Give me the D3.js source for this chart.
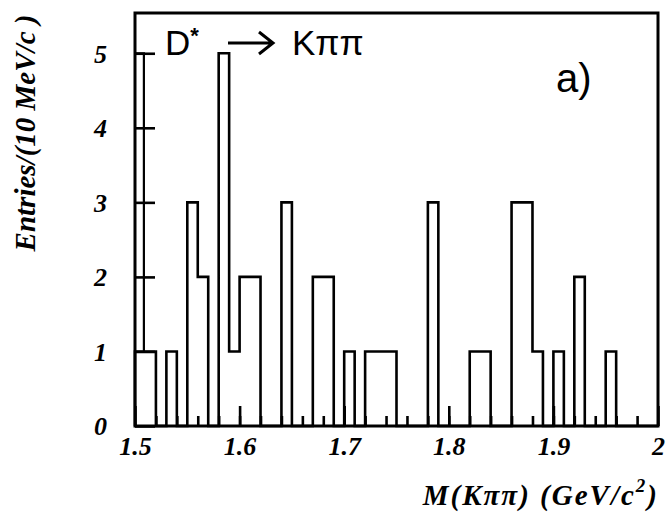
<!doctype html>
<html>
<head>
<script src="https://d3js.org/d3.v7.min.js"></script>
<style>
body { margin: 0; background: #fff; }
svg text { fill: #000; }
.axis text { font-family: "Liberation Serif", "DejaVu Serif", serif; font-style: italic; font-weight: bold; font-size: 26px; }
.axis line { stroke: #000; stroke-width: 2.6px; }
.title { font-family: "Liberation Serif", serif; font-style: italic; font-weight: bold; font-size: 29px; }
.sans { font-family: "Liberation Sans", Arial, sans-serif; }
</style>
</head>
<body>
<svg id="chart" width="672" height="517"></svg>
<script>
// bins of 10 MeV starting at 1.50 GeV
var binStart = 1.5;
var binWidth = 0.01;
var counts = [1, 1, 0, 1, 0, 3, 2, 0, 5, 1,
              2, 2, 0, 0, 3, 0, 0, 2, 2, 0,
              1, 0, 1, 1, 1, 0, 0, 0, 3, 0,
              0, 0, 1, 1, 0, 0, 3, 3, 1, 0,
              1, 0, 2, 0, 0, 1, 0, 0, 0, 0];
// odd narrow spike drawn at the very left edge
var spikeEdge = 1.5085;
var spikeTop = 5;
var xTicks = [1.5, 1.6, 1.7, 1.8, 1.9, 2.0];
var xTickLabels = ["1.5", "1.6", "1.7", "1.8", "1.9", "2"];
var xMinorTicks = d3.range(1.52, 2.0, 0.02);
var yTicks = [0, 1, 2, 3, 4, 5];

var svg = d3.select("#chart");
var x = d3.scaleLinear().domain([1.5, 2.0]).range([135, 658]);
var y = d3.scaleLinear().domain([0, 5.54]).range([426, 13]);

// histogram outline (steps only where the count changes)
var pts = [[x(binStart), y(0)]];
counts.forEach(function(c, i) {
	var x0 = x(binStart + i * binWidth), x1 = x(binStart + (i + 1) * binWidth);
	pts.push([x0, y(c)], [x1, y(c)]);
});
pts.push([x(binStart + counts.length * binWidth), y(0)]);
svg.append("path")
	.attr("d", d3.line()(pts))
	.attr("fill", "none").attr("stroke", "#000").attr("stroke-width", 2.6)
	.attr("stroke-linejoin", "miter");

svg.append("path")
	.attr("d", d3.line()([[x(1.5), y(spikeTop)], [x(spikeEdge), y(spikeTop)], [x(spikeEdge), y(1)]]))
	.attr("fill", "none").attr("stroke", "#000").attr("stroke-width", 2.2);

// axes: ticks point inside the frame
var gx = svg.append("g").attr("class", "axis")
	.attr("transform", "translate(0," + y(0) + ")")
	.call(d3.axisBottom(x).tickValues(xTicks).tickSize(-20)
		.tickFormat(function(d, i) { return xTickLabels[i]; }));
gx.selectAll("text").attr("y", 29).attr("dy", 0);
svg.append("g").attr("class", "axis")
	.attr("transform", "translate(0," + y(0) + ")")
	.call(d3.axisBottom(x).tickValues(xMinorTicks).tickSize(-10).tickFormat(""));
var gy = svg.append("g").attr("class", "axis")
	.attr("transform", "translate(" + x(1.5) + ",0)")
	.call(d3.axisLeft(y).tickValues(yTicks).tickSize(-20).tickFormat(d3.format("d")));
gy.selectAll("text").attr("x", -28).attr("dy", "0.34em");
svg.selectAll(".axis .domain").remove();

// frame
svg.append("rect")
	.attr("x", x(1.5)).attr("y", y(5.54))
	.attr("width", x(2.0) - x(1.5)).attr("height", y(0) - y(5.54))
	.attr("fill", "none").attr("stroke", "#000").attr("stroke-width", 3);

// axis titles
var xt = svg.append("text").attr("class", "title")
	.attr("x", 659).attr("y", 505).attr("text-anchor", "end")
	.attr("font-size", 31).attr("letter-spacing", 2);
xt.append("tspan").text("M(K\u03c0\u03c0) (GeV/c");
xt.append("tspan").attr("dy", -13).attr("font-size", 19).text("2");
xt.append("tspan").attr("dy", 13).text(")");

svg.append("defs").append("clipPath").attr("id", "yclip")
	.append("rect").attr("x", 13).attr("y", 0).attr("width", 60).attr("height", 300);
svg.append("g").attr("clip-path", "url(#yclip)")
	.append("text").attr("class", "title")
	.attr("transform", "translate(35,133) rotate(-90)")
	.attr("text-anchor", "middle")
	.attr("font-size", 28)
	.text("Entries/(10 MeV/c )");

// labels in the plot
var lab = svg.append("text").attr("class", "sans").attr("x", 165).attr("y", 55).attr("font-size", 35);
lab.append("tspan").text("D");
lab.append("tspan").attr("dy", -12).attr("font-size", 22).attr("font-weight", "bold").text("*");
svg.append("text").attr("class", "sans").attr("x", 292).attr("y", 55).attr("font-size", 35)
	.text("K\u03c0\u03c0");
svg.append("path")
	.attr("d", "M228,43H272M259,32L273,43L259,54")
	.attr("fill", "none").attr("stroke", "#000").attr("stroke-width", 3);

svg.append("text").attr("class", "sans")
	.attr("x", 556).attr("y", 92).attr("font-size", 40)
	.text("a)");
</script>
</body>
</html>
